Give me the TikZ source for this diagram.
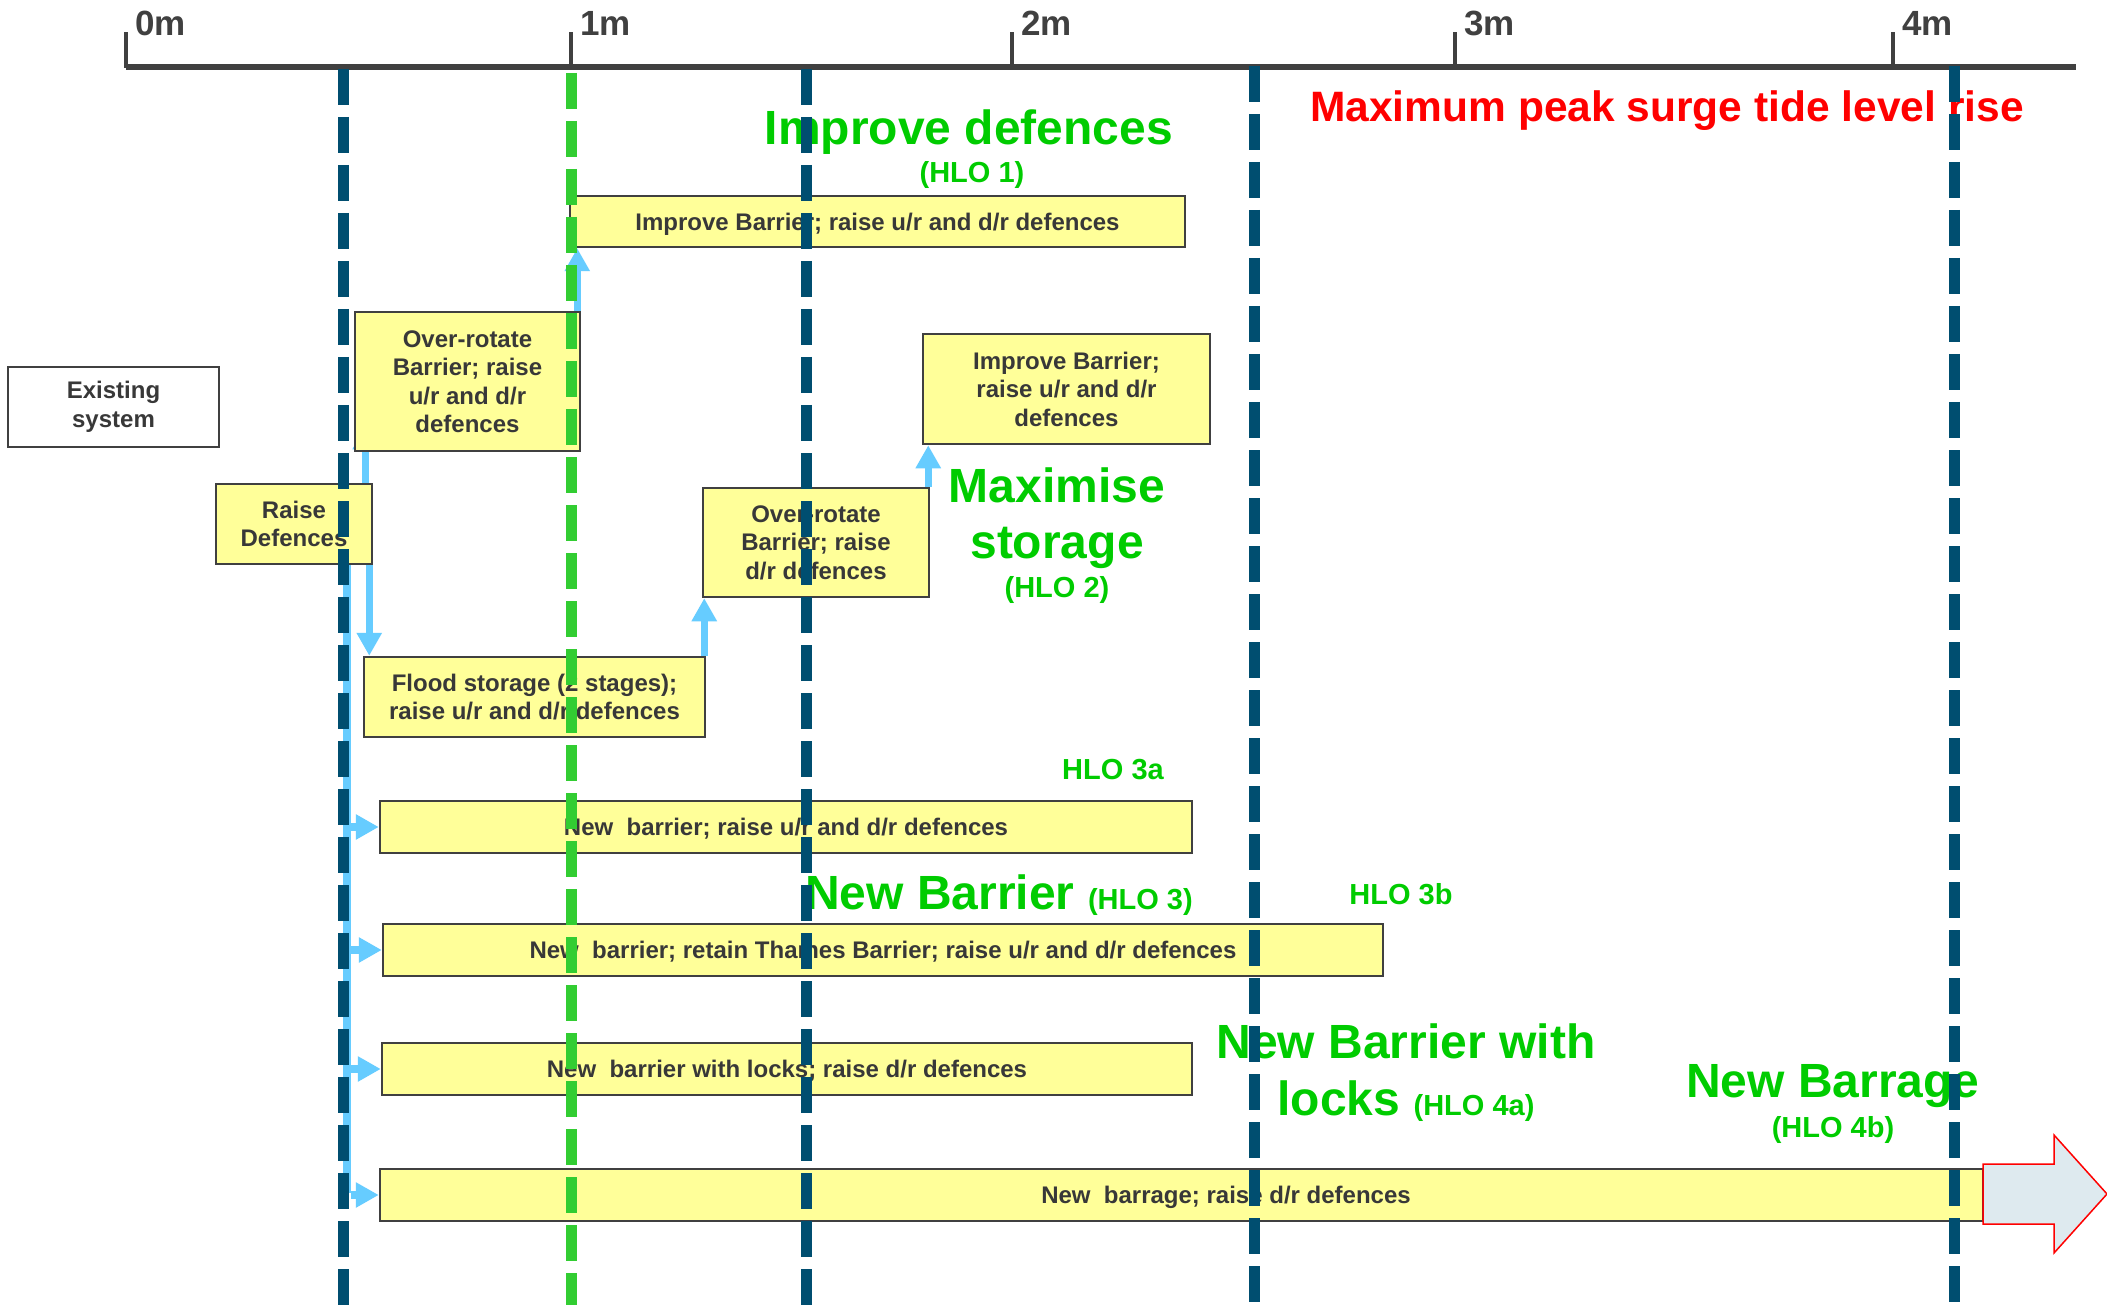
\documentclass[tikz,border=0pt]{standalone}
\usepackage{fontspec}
\setmainfont{Liberation Sans}
\usetikzlibrary{arrows.meta,calc}

\definecolor{boxline}{RGB}{64,64,64}
\definecolor{boxfill}{RGB}{255,255,153}
\definecolor{boxtext}{RGB}{56,56,56}
\definecolor{axisgrey}{RGB}{64,64,64}
\definecolor{dblue}{RGB}{0,78,112}
\definecolor{dgreen}{RGB}{50,205,50}
\definecolor{hlogreen}{RGB}{0,204,0}
\definecolor{lblue}{RGB}{102,204,255}
\definecolor{arrowfill}{RGB}{222,234,239}

\pgfdeclarelayer{bg}
\pgfdeclarelayer{fg}
\pgfsetlayers{bg,main,fg}

\tikzset{
  box/.style={draw=boxline, line width=2.5pt, fill=boxfill, text=boxtext,
    font=\bfseries\fontsize{24}{28.5}\selectfont, align=center, inner sep=0pt},
  oneline/.style={text depth=0pt},
  boxlabel/.style={text=boxtext, font=\bfseries\fontsize{24}{28.5}\selectfont, inner sep=0pt, text depth=0pt},
  conn/.style={draw=lblue, line width=7.5pt, -{Triangle[length=23pt,width=24pt]}},
  trunkline/.style={draw=lblue, line width=7.5pt},
  vline/.style={line width=11pt, dash pattern=on 36pt off 12pt},
  axisline/.style={draw=axisgrey, line width=5.5pt},
  tickline/.style={draw=axisgrey, line width=4pt},
  ticklbl/.style={text=axisgrey, font=\bfseries\fontsize{35}{40}\selectfont, inner sep=0pt, anchor=base west},
  biggreen/.style={text=hlogreen, font=\bfseries\fontsize{48}{57}\selectfont, inner sep=0pt, anchor=base},
  smallgreen/.style={text=hlogreen, font=\bfseries\fontsize{29}{34}\selectfont, inner sep=0pt, anchor=base},
  redtitle/.style={text=red, font=\bfseries\fontsize{42.5}{50}\selectfont, inner sep=0pt, anchor=base},
  bigarrow/.style={draw=red, line width=1.5pt, fill=arrowfill, line join=miter}
}

\begin{document}
\begin{tikzpicture}[x=1pt,y=-1pt]
\useasboundingbox (0,0) rectangle (2107,1305);
\begin{pgfonlayer}{bg}
  \fill[white] (0,0) rectangle (2107,1305);
\end{pgfonlayer}

% scale of peak surge tide level rise
\draw[axisline] (126,67) -- (2076,67);
\foreach \x in {126,571,1012,1455,1893}{
  \draw[tickline] (\x,68) -- (\x,32);
}
\node[ticklbl] (t0) at (135,36) {0m};
\node[ticklbl] (t1) at (580,36) {1m};
\node[ticklbl] (t2) at (1021,36) {2m};
\node[ticklbl] (t3) at (1464,36) {3m};
\node[ticklbl] (t4) at (1902,36) {4m};

\node[redtitle] (maxrise) at (1667,122) {Maximum peak surge tide level rise};

% option boxes
\node[box, fill=white, minimum width=211pt, minimum height=80pt] (exist) at (113.5,407) {Existing\\system};
\node[box, minimum width=156pt, minimum height=80pt] (raise) at (294,524) {Raise\\Defences};
\node[box, minimum width=225pt, minimum height=139pt] (ov1) at (467.5,381.5) {Over-rotate\\Barrier; raise\\u/r and d/r\\defences};
\node[box, oneline, minimum width=615pt, minimum height=51pt] (imp1) at (877.5,221.5) {Improve Barrier; raise u/r and d/r defences};
\node[box, minimum width=341pt, minimum height=80pt] (flood) at (534.5,697) {Flood storage (2 stages);\\raise u/r and d/r defences};
\node[box, minimum width=226pt, minimum height=109pt] (ov2) at (816,542.5) {Over-rotate\\Barrier; raise\\d/r defences};
\node[box, minimum width=287pt, minimum height=110pt] (imp2) at (1066.5,389) {Improve Barrier;\\raise u/r and d/r\\defences};
\node[box, oneline, minimum width=812pt, minimum height=52pt] (nbA) at (786,827) {New~ barrier; raise u/r and d/r defences};
\node[box, oneline, minimum width=1000pt, minimum height=52pt] (nbB) at (883,950) {New~ barrier; retain Thames Barrier; raise u/r and d/r defences};
\node[box, oneline, minimum width=810pt, minimum height=52pt] (nbC) at (787,1069) {New~ barrier with locks; raise d/r defences};
\node[box, minimum width=1603pt, minimum height=52pt] (nbD) at (1181.5,1195) {};
\node[boxlabel] (nbDtext) at (1226,1195) {New~ barrage; raise d/r defences};

% onward arrow beyond 4m
\draw[bigarrow] (1983,1164) -- (2054,1164) -- (2054,1135) -- (2107,1194)
  -- (2054,1253) -- (2054,1224) -- (1983,1224) -- cycle;

% HLO labels
\node[biggreen] (hlo1) at (969,145) {Improve defences};
\node[smallgreen] (hlo1n) at (972,183) {(HLO 1)};
\node[biggreen] (hlo2a) at (1057,502) {Maximise};
\node[biggreen] (hlo2b) at (1057,558) {storage};
\node[smallgreen] (hlo2n) at (1057,597) {(HLO 2)};
\node[smallgreen] (hlo3a) at (1113,779) {HLO 3a};
\node[biggreen, anchor=base west] (hlo3) at (805,909) {New Barrier {\fontsize{29}{34}\selectfont(HLO 3)}};
\node[smallgreen] (hlo3b) at (1401,904) {HLO 3b};
\node[biggreen] (hlo4a1) at (1406,1058) {New Barrier with};
\node[biggreen] (hlo4a2) at (1406,1115) {locks {\fontsize{29}{34}\selectfont(HLO 4a)}};
\node[biggreen] (hlo4b) at (1833,1097) {New Barrage};
\node[smallgreen] (hlo4bn) at (1833,1137) {(HLO 4b)};

% pathway connectors
\begin{pgfonlayer}{bg}
  \coordinate (a1) at ($(raise.north east)+(-8,0)$);
  \draw[conn] (a1) -- ($(a1 |- ov1.south)+(0,-26)$);
  \coordinate (a2) at ($(ov1.north east)+(-4,0)$);
  \draw[conn] (a2) -- (a2 |- imp1.south);
  \coordinate (a3) at ($(raise.south east)+(-4,0)$);
  \draw[conn] (a3) -- (a3 |- flood.north);
  \coordinate (a4) at ($(flood.north east)+(-2,0)$);
  \draw[conn] (a4) -- (a4 |- ov2.south);
  \coordinate (a5) at ($(ov2.north east)+(-2,0)$);
  \draw[conn] (a5) -- (a5 |- imp2.south);
  \coordinate (trunk) at ($(raise.south west)+(132,0)$);
  \draw[trunkline] (trunk) -- ($(trunk |- nbD.west)+(0,-2)$);
  \foreach \b in {nbA,nbB,nbC,nbD}{
    \draw[conn, shorten <=4pt] (trunk |- \b.west) -- (\b.west);
  }
\end{pgfonlayer}

% threshold lines
\begin{pgfonlayer}{fg}
  \draw[vline, dblue] (343,69) -- (343,1305);
  \draw[vline, dgreen] (571,73) -- (571,1305);
  \draw[vline, dblue] (806,69) -- (806,1305);
  \draw[vline, dblue] (1254,66) -- (1254,1305);
  \draw[vline, dblue] (1954,66) -- (1954,1305);
\end{pgfonlayer}
\end{tikzpicture}
\end{document}
